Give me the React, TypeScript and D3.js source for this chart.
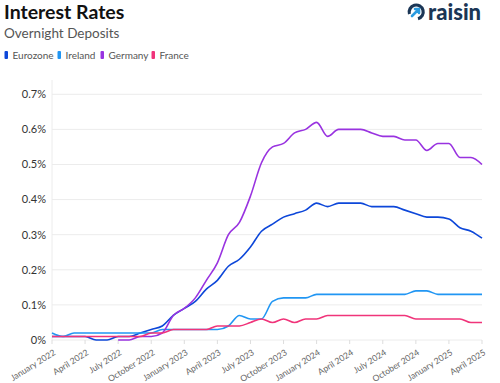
import React from "react";
import * as d3 from "d3";

const monthNames = ["January","February","March","April","May","June","July","August","September","October","November","December"];
const months: string[] = [];
for (let y = 2022; y <= 2025; y++) {
  for (let m = 0; m < 12; m++) {
    if (y === 2025 && m > 3) break;
    months.push(`${monthNames[m]} ${y}`);
  }
}
const tickLabels = months.filter((_, i) => i % 3 === 0);

const eurozone = [0.01,0.01,0.01,0.01,0.0,0.0,0.01,0.01,0.02,0.03,0.04,0.07,0.09,0.11,0.145,0.17,0.21,0.23,0.265,0.31,0.33,0.35,0.36,0.37,0.39,0.38,0.39,0.39,0.39,0.38,0.38,0.38,0.37,0.36,0.35,0.35,0.345,0.32,0.31,0.29];
const ireland = [0.02,0.01,0.02,0.02,0.02,0.02,0.02,0.02,0.02,0.02,0.03,0.03,0.03,0.03,0.03,0.03,0.04,0.07,0.06,0.06,0.11,0.12,0.12,0.12,0.13,0.13,0.13,0.13,0.13,0.13,0.13,0.13,0.13,0.14,0.14,0.13,0.13,0.13,0.13,0.13];
const germany: (number | null)[] = [null,null,null,null,null,null,0.0,0.0,0.01,0.01,0.02,0.07,0.09,0.12,0.17,0.22,0.30,0.335,0.41,0.505,0.55,0.56,0.59,0.60,0.62,0.58,0.60,0.60,0.60,0.59,0.58,0.58,0.57,0.57,0.54,0.56,0.56,0.52,0.52,0.50];
const france = [0.01,0.01,0.01,0.01,0.01,0.01,0.01,0.01,0.01,0.02,0.02,0.03,0.03,0.03,0.03,0.04,0.04,0.04,0.05,0.06,0.05,0.06,0.05,0.06,0.06,0.07,0.07,0.07,0.07,0.07,0.07,0.07,0.07,0.06,0.06,0.06,0.06,0.06,0.05,0.05];

const seriesNames = ["Eurozone","Ireland","Germany","France"];
const seriesColors = ["#0d47d9","#2196f3","#9933e0","#f0347a"];
const seriesData = [eurozone, ireland, germany, france];
const yTicks = [0,0.1,0.2,0.3,0.4,0.5,0.6,0.7];

const FONT = "Lato, sans-serif";

export default function App() {
  const W = 500, H = 383;
  const x = d3.scalePoint<string>().domain(months).range([52, 482]);
  const y = d3.scaleLinear().domain([0, 0.7]).range([340, 94.3]);
  const line = d3.line<number | null>()
    .defined(d => d !== null)
    .x((_, i) => x(months[i]) as number)
    .y(d => y(d as number))
    .curve(d3.curveMonotoneX);

  const legendX = [4, 57, 100, 151];

  return (
    <svg width={W} height={H} style={{ position: "absolute", left: 0, top: 0 }} fontFamily={FONT}>
      <rect width={W} height={H} fill="#fff" />
      <text x={4} y={18.5} fontSize={19.5} fontWeight={700} fill="#111">Interest Rates</text>
      <text x={4} y={37.5} fontSize={13.5} fill="#555">Overnight Deposits</text>
      {seriesNames.map((n, i) => (
        <g key={n} transform={`translate(${legendX[i]},0)`}>
          <rect x={0.5} y={51} width={3.5} height={8} rx={1} fill={seriesColors[i]} />
          <text x={8.5} y={59} fontSize={10} fill="#555">{n}</text>
        </g>
      ))}
      {/* logo */}
      <g transform="translate(416,12)">
        <path d="M -6.5 2 A 7 7 0 1 1 2 6.8" fill="none" stroke="#1b3656" strokeWidth={3.2} />
        <path d="M -4 4 L 3 -3 M -1 -3 L 3 -3 L 3 1" fill="none" stroke="#2a9be0" strokeWidth={2.6} strokeLinecap="round" />
      </g>
      <text x={428} y={20} fontSize={22} fontWeight={900} fill="#1b3656">raisin</text>

      {yTicks.map(t => (
        <g key={t}>
          <line x1={52} x2={482} y1={y(t)} y2={y(t)} stroke="#ececec" strokeWidth={1} />
          <text x={46} y={y(t)} dy="0.35em" textAnchor="end" fontSize={11} fill="#333">{`${Math.round(t * 10) / 10}%`}</text>
        </g>
      ))}
      <line x1={52} x2={52} y1={80} y2={340} stroke="#ececec" />
      {tickLabels.map(t => (
        <g key={t} transform={`translate(${x(t)},340)`}>
          <line y1={0} y2={4} stroke="#ddd" />
          <text transform="translate(1,9) rotate(-32)" textAnchor="end" dy="0.7em" fontSize={8.6} fill="#666">{t}</text>
        </g>
      ))}
      {seriesData.map((d, i) => (
        <path key={seriesNames[i]} d={line(d) || ""} fill="none" stroke={seriesColors[i]} strokeWidth={1.6} />
      ))}
    </svg>
  );
}
